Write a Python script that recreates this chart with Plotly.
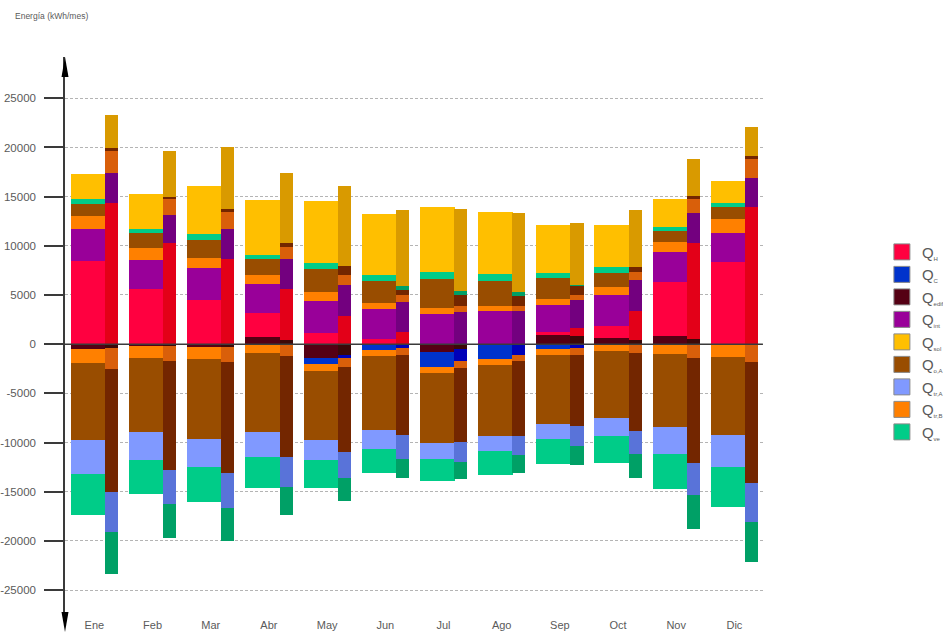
import plotly.graph_objects as go

months = ["Ene", "Feb", "Mar", "Abr", "May", "Jun", "Jul", "Ago", "Sep", "Oct", "Nov", "Dic"]
tick_values = [25000, 20000, 15000, 10000, 5000, 0, -5000, -10000, -15000, -20000, -25000]
tick_labels = ["25000", "20000", "15000", "10000", "5000", "0", "-5000", "-10000", "-15000", "-20000", "-25000"]

# positive side, wide bars
pf_edif = [0, 0, 0, 740, 0, 0, 0, 0, 1000, 580, 840, 0]
pf_H = [8470, 5660, 4540, 2450, 1150, 510, 0, 0, 190, 1250, 5440, 8370]
pf_int = [3190, 2880, 3160, 2880, 3220, 3020, 3050, 3360, 2780, 3220, 3110, 2950]
pf_trB = [1390, 1190, 1080, 950, 920, 610, 580, 510, 610, 720, 1010, 1370]
pf_oA = [1250, 1590, 1860, 1590, 2340, 2300, 2950, 2570, 2100, 1480, 1130, 1210]
pf_ve = [480, 440, 550, 440, 610, 550, 780, 650, 570, 550, 340, 410]
pf_sol = [2570, 3460, 4880, 5590, 6340, 6200, 6610, 6340, 4860, 4310, 2880, 2300]

# positive side, narrow bars
pb_edif = [0, 0, 0, 470, 0, 0, 0, 0, 800, 400, 510, 0]
pb_H = [14400, 10240, 8610, 5190, 2850, 1190, 0, 0, 800, 2960, 9730, 13900]
pb_int = [3020, 2880, 3150, 2950, 3150, 3050, 3290, 3360, 2870, 3150, 3050, 2950]
pb_trB = [2240, 1630, 1630, 1220, 1020, 750, 580, 540, 580, 840, 1460, 1970]
pb_oA = [240, 230, 340, 410, 910, 500, 1115, 980, 900, 520, 340, 330]
pb_ve = [0, 0, 0, 0, 0, 410, 435, 380, 50, 0, 0, 0]
pb_sol = [3390, 4680, 6340, 7180, 8140, 7730, 8280, 8030, 6330, 5760, 3730, 2930]

# negative side, wide bars
nf_edif = [-540, -200, -300, 0, -1390, 0, -780, 0, 0, 0, 0, 0]
nf_C = [0, 0, 0, 0, -580, -610, -1590, -1460, -510, 0, 0, 0]
nf_trB = [-1360, -1160, -1160, -880, -780, -580, -550, -680, -610, -680, -1020, -1320]
nf_oA = [-7860, -7620, -8170, -8100, -7010, -7560, -7110, -7220, -6950, -6810, -7450, -7930]
nf_trA = [-3460, -2820, -2910, -2480, -2040, -1860, -1600, -1520, -1590, -1830, -2720, -3290]
nf_ve = [-4170, -3390, -3490, -3120, -2780, -2470, -2300, -2440, -2480, -2750, -3490, -3970]

# negative side, narrow bars
nb_edif = [-440, -200, -300, 0, -1120, 0, -510, 0, 0, 0, 0, 0]
nb_C = [0, 0, 0, 0, -270, -370, -1220, -1120, -440, 0, 0, 0]
nb_trB = [-2100, -1530, -1500, -1190, -980, -750, -680, -610, -680, -850, -1390, -1860]
nb_oA = [-12480, -11020, -11350, -10270, -8580, -8130, -7520, -7590, -7190, -8000, -10680, -12280]
nb_trA = [-4060, -3550, -3560, -3050, -2610, -2380, -2040, -1970, -2030, -2270, -3290, -3930]
nb_ve = [-4280, -3360, -3320, -2850, -2410, -1960, -1760, -1790, -1970, -2440, -3450, -4070]

subs = ["H", "C", "edif", "int", "sol", "o,A", "tr,A", "tr,B", "ve"]
names = [f"Q<sub><span style='font-size:6px'>{s}</span></sub>" for s in subs]
front_colors = {"H": "#ff0040", "C": "#0033cc", "edif": "#550014", "int": "#990099", "sol": "#ffbf00",
                "oA": "#994d00", "trA": "#8099ff", "trB": "#ff8000", "ve": "#00cc88"}
back_colors = {"H": "#e30018", "C": "#0000b8", "edif": "#3c0808", "int": "#73007f", "sol": "#d99a00",
               "oA": "#732600", "trA": "#5973d9", "trB": "#d95f0a", "ve": "#00a066"}
keys = ["H", "C", "edif", "int", "sol", "oA", "trA", "trB", "ve"]

front_offset, front_width = -0.105, 0.60
back_offset, back_width = 0.295, 0.225
idx = list(range(len(months)))

fig = go.Figure()


def add_bar(values, key, offset, width, colors):
    fig.add_trace(go.Bar(
        x=[i + offset for i in idx], y=values, width=width,
        marker=dict(color=colors[key], line=dict(width=0)),
        showlegend=False, legendgroup=key, name=names[keys.index(key)],
    ))


for vals, key in [(pf_edif, "edif"), (pf_H, "H"), (pf_int, "int"), (pf_trB, "trB"),
                  (pf_oA, "oA"), (pf_ve, "ve"), (pf_sol, "sol"),
                  (nf_edif, "edif"), (nf_C, "C"), (nf_trB, "trB"), (nf_oA, "oA"),
                  (nf_trA, "trA"), (nf_ve, "ve")]:
    add_bar(vals, key, front_offset, front_width, front_colors)

for vals, key in [(pb_edif, "edif"), (pb_H, "H"), (pb_int, "int"), (pb_trB, "trB"),
                  (pb_oA, "oA"), (pb_ve, "ve"), (pb_sol, "sol"),
                  (nb_edif, "edif"), (nb_C, "C"), (nb_trB, "trB"), (nb_oA, "oA"),
                  (nb_trA, "trA"), (nb_ve, "ve")]:
    add_bar(vals, key, back_offset, back_width, back_colors)

# legend entries with larger square swatches
for key, name in zip(keys, names):
    fig.add_trace(go.Scatter(
        x=[None], y=[None], mode="markers", name=name, legendgroup=key,
        marker=dict(symbol="square", size=16, color=front_colors[key],
                    line=dict(width=1, color="#8a8a8a")),
    ))

axis_color = "#3a3a3a"
text_color = "#5a5a5a"
font_family = "Liberation Sans, Arial, sans-serif"

fig.update_layout(
    width=943, height=633,
    margin=dict(l=65, r=178, t=57, b=18, autoexpand=False),
    paper_bgcolor="white", plot_bgcolor="white",
    barmode="relative", bargap=0,
    font=dict(family=font_family, color=text_color, size=11),
    legend=dict(x=1.167, y=0.489, xanchor="left", yanchor="middle", tracegroupgap=0,
                bgcolor="rgba(0,0,0,0)", font=dict(size=15, color=text_color),
                itemclick=False, itemdoubleclick=False),
    xaxis=dict(range=[-0.505, 11.526], tickmode="array", tickvals=idx, ticktext=months,
               showgrid=False, zeroline=False, showline=False, ticks="", ticklen=0,
               ticklabelstandoff=2, tickfont=dict(size=11, color=text_color)),
    yaxis=dict(range=[-27540, 29200], tickmode="array", tickvals=tick_values, ticktext=tick_labels,
               showgrid=True, gridcolor="#b4b4b4", gridwidth=1, griddash="3px,2px",
               zeroline=False, showline=True, linecolor=axis_color, linewidth=1.5,
               ticks="outside", ticklen=19, tickwidth=1.5, tickcolor=axis_color,
               ticklabelstandoff=6, tickfont=dict(size=11.5, color=text_color)),
    shapes=[
        dict(type="line", xref="x", yref="y", x0=-0.505, x1=11.49, y0=0, y1=0,
             line=dict(color=axis_color, width=1.5), layer="above"),
        dict(type="path", xref="paper", yref="paper", xsizemode="pixel", ysizemode="pixel",
             xanchor=0, yanchor=1, path="M 0 0 L -3.5 -20 L 3.5 -20 Z",
             fillcolor="black", line=dict(width=0)),
        dict(type="path", xref="paper", yref="paper", xsizemode="pixel", ysizemode="pixel",
             xanchor=0, yanchor=0, path="M 0 -17 L -3.5 3 L 3.5 3 Z",
             fillcolor="black", line=dict(width=0)),
    ],
    annotations=[
        dict(text="Energía (kWh/mes)", xref="paper", yref="paper", x=-0.0743, y=1.0735,
             xanchor="left", yanchor="middle", showarrow=False,
             font=dict(size=8.5, color=text_color)),
    ],
)

fig.write_html("out.html", config={"displayModeBar": False},
               post_script="document.body.style.margin='0';")
